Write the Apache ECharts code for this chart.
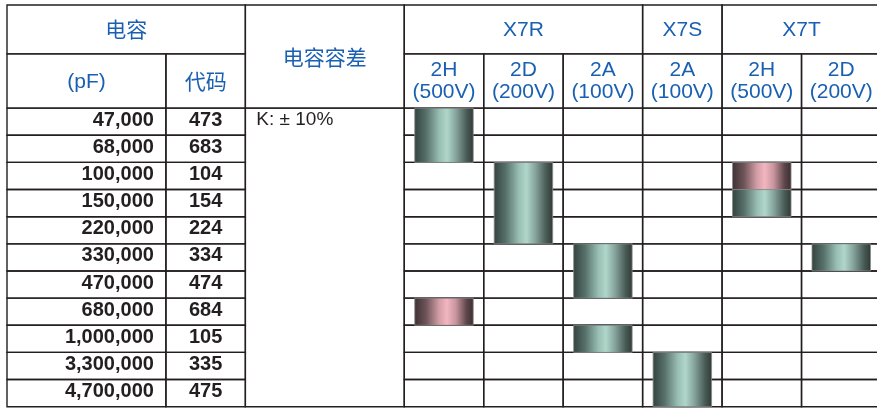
<!DOCTYPE html>
<html><head><meta charset="utf-8">
<script src="https://cdn.jsdelivr.net/npm/echarts@6/dist/echarts.min.js"></script>
<style>html,body{margin:0;padding:0;background:#fff;overflow:hidden}#c{width:877px;height:409px}</style>
</head><body><div id="c"></div>
<script>
// ---- data ----
const capacitance = ['47,000','68,000','100,000','150,000','220,000','330,000','470,000','680,000','1,000,000','3,300,000','4,700,000'];
const codes = ['473','683','104','154','224','334','474','684','105','335','475'];
const tolerance = 'K: ± 10%';
const headCap = '电容', headUnit = '(pF)', headCode = '代码', headTol = '电容容差';
const dielectrics = ['X7R','X7S','X7T'];
const dielectricSpan = [3,1,2];
const voltageCodes = ['2H','2D','2A','2A','2H','2D'];
const voltages = ['(500V)','(200V)','(100V)','(100V)','(500V)','(200V)'];
// 1 = available (green), 2 = available (pink)
const X7R_2H = [1,1,0,0,0,0,0,2,0,0,0];
const X7R_2D = [0,0,1,1,1,0,0,0,0,0,0];
const X7R_2A = [0,0,0,0,0,1,1,0,1,0,0];
const X7S_2A = [0,0,0,0,0,0,0,0,0,1,1];
const X7T_2H = [0,0,2,1,0,0,0,0,0,0,0];
const X7T_2D = [0,0,0,0,0,1,0,0,0,0,0];
const availability = [X7R_2H, X7R_2D, X7R_2A, X7S_2A, X7T_2H, X7T_2D];

// ---- layout (axis units) ----
const H0 = -3.8, H1 = -2, D0 = 0;
const NR = capacitance.length;
const VC0 = 5; // first voltage column unit
const BLUE = '#1a60b2', INK = '#231f20';
const LATIN = '"Liberation Sans", Arial, Helvetica, sans-serif';
const CJK = '"Liberation Sans", "Noto Sans CJK SC", sans-serif';

const cells = [];
cells.push({x0:0,x1:3,y0:H0,y1:H1,text:headCap,font:'21px '+CJK,fill:BLUE,dy:2});
cells.push({x0:0,x1:2,y0:H1,y1:D0,text:headUnit,font:'21px '+LATIN,fill:BLUE,dy:1});
cells.push({x0:2,x1:3,y0:H1,y1:D0,text:headCode,font:'21px '+CJK,fill:BLUE,dy:2});
cells.push({x0:3,x1:5,y0:H0,y1:D0,text:headTol,font:'21px '+CJK,fill:BLUE,dy:3});
let cx = VC0;
dielectrics.forEach((d,i)=>{
  cells.push({x0:cx,x1:cx+dielectricSpan[i],y0:H0,y1:H1,text:d,font:'21px '+LATIN,fill:BLUE,dy:1});
  cx += dielectricSpan[i];
});
voltageCodes.forEach((v,i)=>{
  cells.push({x0:VC0+i,x1:VC0+i+1,y0:H1,y1:D0,text:v+'\n'+voltages[i],font:'21px '+LATIN,fill:BLUE,lh:22,dy:0});
});
cells.push({x0:3,x1:5,y0:D0,y1:NR,text:tolerance,font:'19px '+LATIN,fill:INK,tol:true});
for (let r=0;r<NR;r++){
  cells.push({x0:0,x1:2,y0:r,y1:r+1,text:capacitance[r],font:'bold 20px '+LATIN,fill:INK,right:true,dy:-1.5});
  cells.push({x0:2,x1:3,y0:r,y1:r+1,text:codes[r],font:'bold 20px '+LATIN,fill:INK,dy:-1.5});
  for (let i=0;i<availability.length;i++) cells.push({x0:VC0+i,x1:VC0+i+1,y0:r,y1:r+1});
}

// runs of availability -> bar segments
const bars = [];
availability.forEach((col,i)=>{
  let r=0;
  while(r<col.length){
    if(col[r]){ let s=r, k=col[r]; while(r<col.length && col[r]===k) r++; bars.push([i,s,r,k]); }
    else r++;
  }
});

const greenGrad = {type:'linear',x:0,y:0,x2:1,y2:0,colorStops:[
  {offset:0,color:'#34423e'},{offset:0.2,color:'#56706a'},{offset:0.42,color:'#98bdb2'},
  {offset:0.55,color:'#b0d6ca'},{offset:0.7,color:'#86a59c'},{offset:0.88,color:'#4a5c57'},{offset:1,color:'#2e3a36'}]};
const pinkGrad = {type:'linear',x:0,y:0,x2:1,y2:0,colorStops:[
  {offset:0,color:'#3e3033'},{offset:0.2,color:'#6e5559'},{offset:0.42,color:'#d39ea7'},
  {offset:0.55,color:'#f2b6c0'},{offset:0.7,color:'#c8959e'},{offset:0.88,color:'#5e474b'},{offset:1,color:'#3b2d30'}]};

const chart = echarts.init(document.getElementById('c'), null, {renderer:'canvas'});
chart.setOption({
  animation:false,
  grid:{left:7, top:5, right:0, height:401.7},
  xAxis:{type:'value', min:0, max:10.95, show:false},
  yAxis:{type:'value', min:H0, max:NR, inverse:true, show:false},
  series:[
    {
      type:'custom', z:1, silent:true, clip:false,
      data: cells.map(c=>[c.x0,c.y0,c.x1,c.y1]),
      encode:{x:[0,2], y:[1,3]},
      renderItem:function(params, api){
        const c = cells[params.dataIndex];
        const p0 = api.coord([c.x0,c.y0]), p1 = api.coord([c.x1,c.y1]);
        const ch = [{type:'rect', shape:{x:p0[0],y:p0[1],width:p1[0]-p0[0],height:p1[1]-p0[1]},
          style:{fill:'none', stroke:INK, lineWidth:1.4}}];
        if (c.text){
          let x, y, align='center';
          if (c.tol){ x = p0[0]+11; y = api.coord([c.x0, D0+0.5])[1]-1.5; align='left'; }
          else if (c.right){ x = p1[0]-12; y=(p0[1]+p1[1])/2+(c.dy||0); align='right'; }
          else { x=(p0[0]+p1[0])/2; y=(p0[1]+p1[1])/2+(c.dy||0); }
          ch.push({type:'text', style:{text:c.text, x:x, y:y, align:align, verticalAlign:'middle',
            font:c.font, fill:c.fill, lineHeight:c.lh||undefined}});
        }
        return {type:'group', children:ch};
      }
    },
    {
      type:'custom', z:2, silent:true, clip:false,
      data: bars,
      encode:{x:0, y:[1,2]},
      renderItem:function(params, api){
        const col = api.value(0), s = api.value(1), e = api.value(2), k = api.value(3);
        const a = api.coord([VC0+col+0.132, s]), b = api.coord([VC0+col+0.868, e]);
        return {type:'rect', shape:{x:a[0], y:a[1], width:b[0]-a[0], height:b[1]-a[1]},
          style:{fill: k===2 ? pinkGrad : greenGrad, stroke:'#8a8a8a', lineWidth:0.8}};
      }
    }
  ]
});
</script>
</body></html>
